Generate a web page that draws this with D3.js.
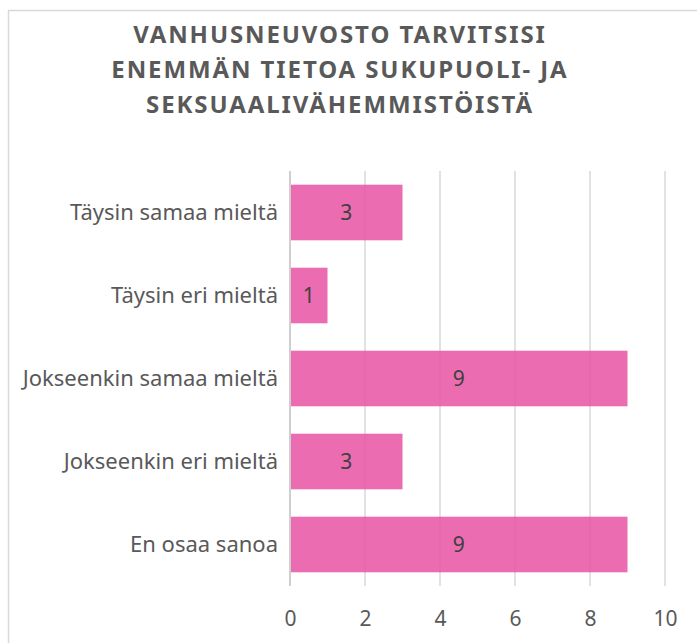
<!DOCTYPE html>
<html>
<head>
<meta charset="utf-8">
<script src="https://cdn.jsdelivr.net/npm/d3@7"></script>
<style>
  body { margin: 0; background: #fff; }
  svg { display: block; font-family: "Noto Sans", sans-serif; }
</style>
</head>
<body>
<div id="chart-container"></div>
<script>
const categories = ["Täysin samaa mieltä", "Täysin eri mieltä", "Jokseenkin samaa mieltä", "Jokseenkin eri mieltä", "En osaa sanoa"];
const values = [3, 1, 9, 3, 9];
const xTicks = [0, 2, 4, 6, 8, 10];
const titleLines = ["VANHUSNEUVOSTO TARVITSISI", "ENEMMÄN TIETOA SUKUPUOLI- JA", "SEKSUAALIVÄHEMMISTÖISTÄ"];

const svgWidth = 697;
const svgHeight = 643;
const margin = { top: 171, right: 32, bottom: 57, left: 290 };
const width = svgWidth - margin.left - margin.right;
const height = svgHeight - margin.top - margin.bottom;

const svg = d3.select("#chart-container")
    .append("svg")
    .attr("width", svgWidth)
    .attr("height", svgHeight);

// outer chart frame (runs off the page on the right and bottom)
svg.append("rect")
    .attr("x", 8.5)
    .attr("y", 10.5)
    .attr("width", 720)
    .attr("height", 660)
    .attr("fill", "none")
    .attr("stroke", "#d9d9d9")
    .attr("stroke-width", 1.5);

svg.append("g")
    .selectAll("text")
    .data(titleLines)
    .enter()
    .append("text")
    .attr("x", 340)
    .attr("y", (d, i) => 43 + i * 35)
    .attr("text-anchor", "middle")
    .attr("font-size", "24px")
    .attr("font-weight", "bold")
    .attr("letter-spacing", "1.9px")
    .attr("fill", "#595959")
    .text(d => d);

const chart = svg.append("g")
    .attr("transform", `translate(${margin.left},${margin.top})`);

const scaleX = d3.scaleLinear()
    .domain([0, 10])
    .range([0, width]);

const scaleY = d3.scaleBand()
    .domain(categories)
    .range([0, height])
    .paddingInner(0.33)
    .paddingOuter(0.165);

// gridlines
chart.selectAll(".grid")
    .data(xTicks)
    .enter()
    .append("line")
    .attr("x1", d => scaleX(d))
    .attr("x2", d => scaleX(d))
    .attr("y1", 0)
    .attr("y2", height)
    .attr("stroke", d => d === 0 ? "#bfbfbf" : "#d9d9d9")
    .attr("stroke-width", 1.5);

chart.selectAll(".bar")
    .data(values)
    .enter()
    .append("rect")
    .attr("x", scaleX(0) + 1)
    .attr("y", (d, i) => scaleY(categories[i]))
    .attr("width", d => scaleX(d) - scaleX(0) - 1)
    .attr("height", scaleY.bandwidth())
    .attr("fill", "rgb(233,82,164)")
    .attr("fill-opacity", 0.85);

chart.selectAll(".label")
    .data(values)
    .enter()
    .append("text")
    .attr("x", d => scaleX(d / 2))
    .attr("y", (d, i) => scaleY(categories[i]) + scaleY.bandwidth() / 2)
    .attr("dy", "0.35em")
    .attr("text-anchor", "middle")
    .attr("font-size", "21px")
    .attr("fill", "#404040")
    .text(d => d);

const xAxis = chart.append("g")
    .attr("transform", `translate(0,${height})`)
    .call(d3.axisBottom(scaleX).tickValues(xTicks).tickSize(0).tickPadding(25));
xAxis.select(".domain").remove();
xAxis.selectAll("text")
    .attr("font-size", "21px")
    .attr("font-family", "Noto Sans, sans-serif")
    .attr("fill", "#595959");

const yAxis = chart.append("g")
    .call(d3.axisLeft(scaleY).tickSize(0).tickPadding(12));
yAxis.select(".domain").remove();
yAxis.selectAll("text")
    .attr("font-size", "22px")
    .attr("font-family", "Noto Sans, sans-serif")
    .attr("fill", "#595959");
</script>
</body>
</html>
